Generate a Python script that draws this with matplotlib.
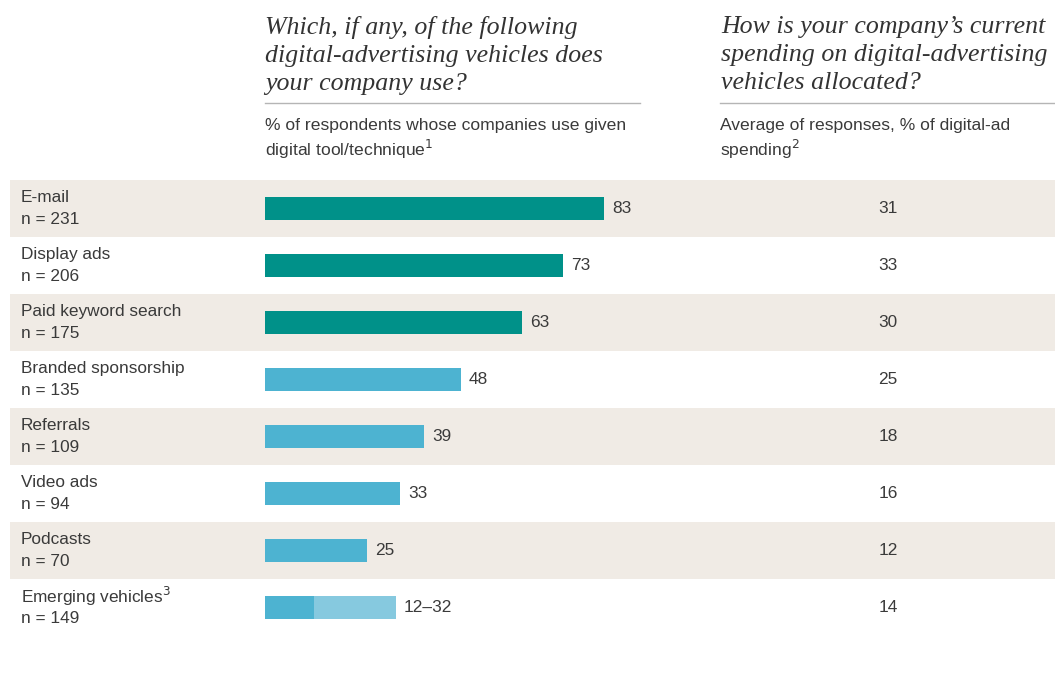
import matplotlib
matplotlib.use("Agg")
import matplotlib.pyplot as plt
from matplotlib.transforms import blended_transform_factory
from matplotlib import font_manager

categories = ["E-mail", "Display ads", "Paid keyword search", "Branded sponsorship",
              "Referrals", "Video ads", "Podcasts", "Emerging vehicles"]
n_values = [231, 206, 175, 135, 109, 94, 70, 149]
use_pct = [83, 73, 63, 48, 39, 33, 25, 12]
emerging_high = 32
spend_pct = [31, 33, 30, 25, 18, 16, 12, 14]
bar_colors = ["#009189", "#009189", "#009189", "#4db3d1", "#4db3d1", "#4db3d1", "#4db3d1", "#4db3d1"]
range_color = "#86c9df"

W, H = 1055, 673
fig = plt.figure(figsize=(W / 100, H / 100), dpi=100)

names = {f.name for f in font_manager.fontManager.ttflist}
sans = "Liberation Sans Narrow" if "Liberation Sans Narrow" in names else "Liberation Sans"
serif = "Liberation Serif"
txt = "#3a3a3a"
fs = 12.4

px_per_unit = 4.08
left_px, bar0_px, right_px = 10, 265, 1055
top_px, bot_px = 180, 636
ax = fig.add_axes([left_px / W, 1 - bot_px / H, (right_px - left_px) / W, (bot_px - top_px) / H])
ax.set_xlim(-(bar0_px - left_px) / px_per_unit, (right_px - bar0_px) / px_per_unit)
ax.set_ylim(len(categories) - 0.5, -0.5)
ax.axis("off")

for i in range(len(categories)):
    if i % 2 == 0:
        ax.axhspan(i - 0.5, i + 0.5, color="#f0ebe5", lw=0, zorder=0)

ypos = list(range(len(categories)))
ax.barh(ypos, use_pct, height=0.39, color=bar_colors, zorder=2)
ax.barh(ypos[-1], emerging_high - use_pct[-1], left=use_pct[-1], height=0.39,
        color=range_color, zorder=2)

xfig = blended_transform_factory(fig.transFigure, ax.transData)
for i, (c, n, v, s) in enumerate(zip(categories, n_values, use_pct, spend_pct)):
    end = v if i < len(categories) - 1 else emerging_high
    lab = str(v) if i < len(categories) - 1 else f"{v}\u2013{emerging_high}"
    ax.text(end + 2.0, i, lab, va="center", ha="left", fontsize=fs, color=txt, family=sans)
    name = c + ("$^{3}$" if i == len(categories) - 1 else "")
    ax.text(21 / W, i - 0.19, name, transform=xfig, va="center", ha="left",
            fontsize=fs, color=txt, family=sans)
    ax.text(21 / W, i + 0.2, f"n = {n}", transform=xfig, va="center", ha="left",
            fontsize=fs, color=txt, family=sans)
    ax.text(888 / W, i, str(s), transform=xfig, va="center", ha="center",
            fontsize=fs, color=txt, family=sans)

# Headers
title1 = "Which, if any, of the following\ndigital-advertising vehicles does\nyour company use?"
title2 = "How is your company\u2019s current\nspending on digital-advertising\nvehicles allocated?"
tfs = 18.6
fig.text(265 / W, 1 - 16 / H, title1, ha="left", va="top", fontsize=tfs, style="italic",
         family=serif, color="#333333", linespacing=1.34)
fig.text(721 / W, 1 - 16 / H, title2, ha="left", va="top", fontsize=tfs, style="italic",
         family=serif, color="#333333", linespacing=1.34)
fig.add_artist(plt.Line2D([265 / W, 640 / W], [1 - 103 / H] * 2, color="#b5b5b5", lw=1))
fig.add_artist(plt.Line2D([720 / W, 1055 / W], [1 - 103 / H] * 2, color="#b5b5b5", lw=1))
sfs = 12.6
fig.text(265 / W, 1 - 118 / H, "% of respondents whose companies use given\ndigital tool/technique$^{1}$",
         ha="left", va="top", fontsize=sfs, family=sans, color=txt, linespacing=1.25)
fig.text(720 / W, 1 - 118 / H, "Average of responses, % of digital-ad\nspending$^{2}$",
         ha="left", va="top", fontsize=sfs, family=sans, color=txt, linespacing=1.25)

fig.savefig("out.png", dpi=100, facecolor="white")
